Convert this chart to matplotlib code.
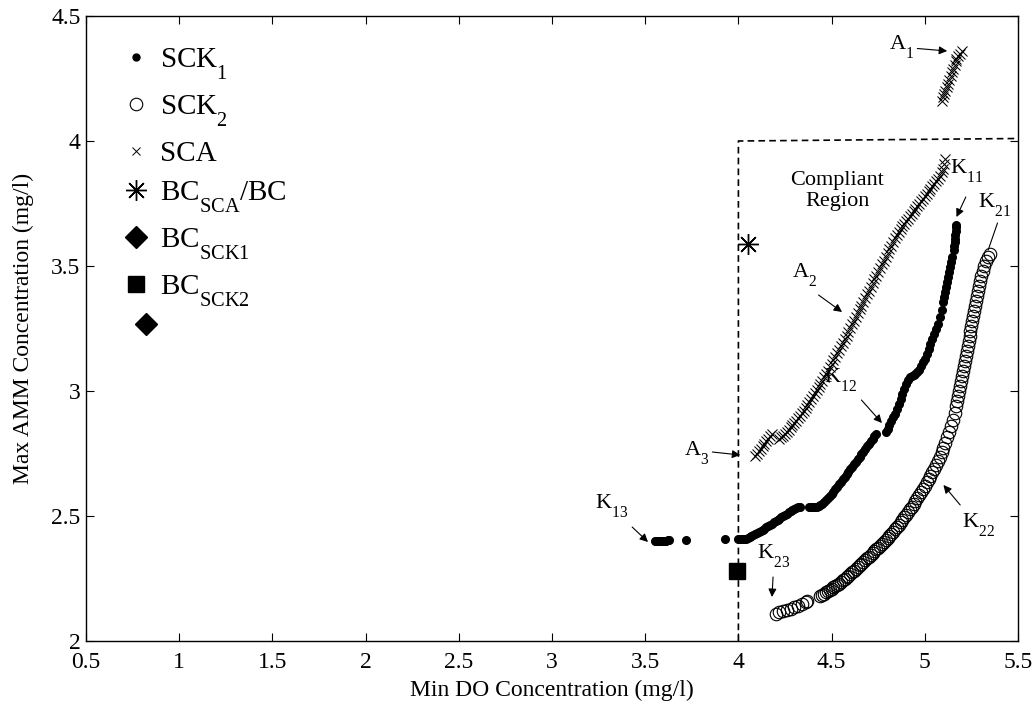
"""
Min DO vs Max AMM concentration: SCK1 / SCK2 / SCA trade-off curves
with the compliant region marked off by a dashed line.
"""

import matplotlib
matplotlib.use('Agg')
import matplotlib.pyplot as plt
from matplotlib.lines import Line2D

plt.rcParams['font.family'] = ['Liberation Serif', 'DejaVu Serif']
plt.rcParams['mathtext.fontset'] = 'custom'
plt.rcParams['mathtext.rm'] = 'Liberation Serif'
plt.rcParams['mathtext.it'] = 'Liberation Serif:italic'

# MATLAB-style subscripts sit lower than mathtext's default
try:
    import matplotlib._mathtext as _mt
    _mt.FontConstantsBase.sub1 = 0.9
    _mt.FontConstantsBase.sub2 = 1.0
except Exception:
    pass

# ---- data ----
# SCK1 (filled dots)
sck1_do = [3.55, 3.56, 3.57, 3.58, 3.59, 3.60, 3.61, 3.62, 3.63, 3.72, 3.93,
           4.00, 4.01, 4.02, 4.03, 4.04, 4.05, 4.06, 4.07, 4.08, 4.09, 4.10, 4.11,
           4.12, 4.13, 4.14, 4.15, 4.16, 4.17, 4.18, 4.19, 4.20, 4.21, 4.22, 4.23,
           4.24, 4.25, 4.26, 4.27, 4.28, 4.29, 4.30, 4.31, 4.32, 4.33,
           4.38, 4.39, 4.40, 4.41, 4.42, 4.43, 4.44, 4.45, 4.46, 4.47, 4.48, 4.49,
           4.50, 4.51, 4.52, 4.53, 4.54, 4.55, 4.56, 4.57, 4.58, 4.59, 4.60, 4.61,
           4.62, 4.63, 4.64, 4.65, 4.66, 4.67, 4.68, 4.69, 4.70, 4.71, 4.72, 4.73, 4.74,
           4.79, 4.80, 4.81, 4.82, 4.83, 4.84, 4.85, 4.86, 4.87, 4.88, 4.89, 4.90,
           4.91, 4.92, 4.93, 4.94, 4.95, 4.96, 4.97, 4.98, 4.99, 5.00, 5.01, 5.02,
           5.03, 5.04, 5.05, 5.06, 5.07, 5.08, 5.09, 5.10, 5.105, 5.11, 5.115, 5.12,
           5.125, 5.13, 5.135, 5.14, 5.145,
           5.155, 5.157, 5.16, 5.162, 5.164, 5.166, 5.168, 5.17]
sck1_amm = [2.400, 2.400, 2.400, 2.400, 2.401, 2.402, 2.402, 2.403, 2.404, 2.405, 2.410,
            2.410, 2.410, 2.410, 2.410, 2.410, 2.413, 2.416, 2.420, 2.424, 2.428, 2.432, 2.436,
            2.440, 2.445, 2.450, 2.455, 2.460, 2.465, 2.470, 2.475, 2.480, 2.485, 2.490, 2.495,
            2.500, 2.505, 2.510, 2.515, 2.520, 2.525, 2.530, 2.533, 2.536, 2.538,
            2.535, 2.535, 2.535, 2.536, 2.538, 2.541, 2.545, 2.550, 2.556, 2.563, 2.571, 2.580,
            2.589, 2.598, 2.607, 2.617, 2.627, 2.637, 2.647, 2.657, 2.667, 2.677, 2.687, 2.697,
            2.707, 2.717, 2.727, 2.737, 2.747, 2.757, 2.768, 2.779, 2.790, 2.800, 2.810, 2.820, 2.828,
            2.835, 2.850, 2.865, 2.880, 2.895, 2.910, 2.930, 2.950, 2.970, 2.990, 3.010, 3.030,
            3.045, 3.055, 3.062, 3.066, 3.070, 3.075, 3.085, 3.100, 3.115, 3.130, 3.150, 3.170,
            3.190, 3.210, 3.230, 3.250, 3.270, 3.295, 3.325, 3.355, 3.375, 3.395, 3.415, 3.435,
            3.455, 3.475, 3.495, 3.515, 3.535,
            3.565, 3.580, 3.595, 3.610, 3.625, 3.640, 3.655, 3.665]

# SCK2 (open circles)
sck2_do = [4.20, 4.22, 4.24, 4.26, 4.28, 4.30, 4.32, 4.34, 4.36, 4.37,
           4.44, 4.45, 4.46, 4.47, 4.48, 4.49, 4.50, 4.51, 4.52, 4.53, 4.54, 4.55,
           4.56, 4.57, 4.58, 4.59, 4.60, 4.61, 4.62, 4.63, 4.64, 4.65, 4.66, 4.67,
           4.68, 4.69, 4.70, 4.71, 4.72, 4.73, 4.74, 4.75, 4.76, 4.77, 4.78, 4.79,
           4.80, 4.81, 4.82, 4.83, 4.84, 4.85, 4.86, 4.87, 4.88, 4.89, 4.90, 4.91,
           4.92, 4.93, 4.94, 4.95, 4.96, 4.97, 4.98, 4.99, 5.00, 5.01, 5.02, 5.03,
           5.04, 5.05, 5.06, 5.07, 5.08, 5.09, 5.10, 5.11, 5.12, 5.13, 5.14, 5.15,
           5.16, 5.17, 5.175, 5.18, 5.185, 5.19, 5.195, 5.20, 5.205, 5.21, 5.215, 5.22,
           5.225, 5.23, 5.235, 5.24, 5.245, 5.25, 5.255, 5.26, 5.265, 5.27, 5.275, 5.28,
           5.285, 5.29, 5.295, 5.30, 5.31, 5.32, 5.33, 5.34, 5.35]
sck2_amm = [2.110, 2.115, 2.120, 2.125, 2.130, 2.135, 2.140, 2.150, 2.155, 2.160,
            2.180, 2.185, 2.190, 2.195, 2.200, 2.205, 2.210, 2.215, 2.220, 2.225, 2.230, 2.237,
            2.243, 2.250, 2.256, 2.262, 2.268, 2.275, 2.282, 2.289, 2.296, 2.303, 2.310, 2.317,
            2.324, 2.331, 2.338, 2.345, 2.352, 2.360, 2.367, 2.374, 2.382, 2.390, 2.397, 2.405,
            2.413, 2.421, 2.430, 2.438, 2.447, 2.456, 2.465, 2.475, 2.485, 2.495, 2.505, 2.516,
            2.527, 2.538, 2.550, 2.562, 2.574, 2.586, 2.598, 2.610, 2.622, 2.635, 2.648, 2.661,
            2.675, 2.689, 2.704, 2.720, 2.737, 2.755, 2.774, 2.794, 2.815, 2.837, 2.860, 2.885,
            2.912, 2.940, 2.960, 2.980, 3.000, 3.020, 3.040, 3.060, 3.080, 3.100, 3.120, 3.140,
            3.160, 3.180, 3.200, 3.220, 3.240, 3.260, 3.280, 3.300, 3.320, 3.340, 3.360, 3.380,
            3.400, 3.420, 3.440, 3.460, 3.480, 3.500, 3.520, 3.535, 3.550]

# SCA (x markers): A1, A3 and A2 segments
sca_do = [5.09, 5.10, 5.105, 5.11, 5.12, 5.125, 5.13, 5.14, 5.145, 5.15, 5.16, 5.165,
          5.17, 5.18, 5.19, 5.20,
          4.09, 4.10, 4.11, 4.12, 4.13, 4.14, 4.15, 4.16, 4.17, 4.18,
          4.22, 4.23, 4.24, 4.25, 4.26, 4.27, 4.28, 4.29, 4.30, 4.31, 4.32, 4.33,
          4.34, 4.35, 4.36, 4.37, 4.38, 4.39, 4.40, 4.41, 4.42, 4.43, 4.44, 4.45,
          4.46, 4.47, 4.48, 4.49, 4.50, 4.51, 4.52, 4.53, 4.54, 4.55, 4.56, 4.57,
          4.58, 4.59, 4.60, 4.61, 4.62, 4.63, 4.64, 4.65, 4.66, 4.67, 4.68, 4.69,
          4.70, 4.71, 4.72, 4.73, 4.74, 4.75, 4.76, 4.77, 4.78, 4.79, 4.80, 4.81,
          4.82, 4.83, 4.84, 4.85, 4.86, 4.87, 4.88, 4.89, 4.90, 4.91, 4.92, 4.93,
          4.94, 4.95, 4.96, 4.97, 4.98, 4.99, 5.00, 5.01, 5.02, 5.03, 5.04, 5.05,
          5.06, 5.07, 5.08, 5.09, 5.10, 5.105, 5.11]
sca_amm = [4.160, 4.175, 4.190, 4.200, 4.215, 4.230, 4.245, 4.260, 4.275, 4.290, 4.305, 4.320,
           4.330, 4.340, 4.350, 4.360,
           2.740, 2.750, 2.760, 2.770, 2.780, 2.790, 2.800, 2.810, 2.820, 2.830,
           2.810, 2.815, 2.822, 2.830, 2.838, 2.846, 2.855, 2.864, 2.873, 2.882, 2.892, 2.902,
           2.912, 2.922, 2.933, 2.944, 2.955, 2.967, 2.979, 2.991, 3.003, 3.016, 3.029, 3.042,
           3.055, 3.068, 3.082, 3.096, 3.110, 3.124, 3.138, 3.152, 3.166, 3.180, 3.194, 3.208,
           3.222, 3.237, 3.252, 3.267, 3.282, 3.297, 3.312, 3.327, 3.342, 3.357, 3.372, 3.387,
           3.402, 3.417, 3.432, 3.447, 3.462, 3.477, 3.492, 3.507, 3.522, 3.537, 3.552, 3.567,
           3.582, 3.597, 3.611, 3.624, 3.637, 3.649, 3.660, 3.670, 3.680, 3.690, 3.700, 3.710,
           3.720, 3.730, 3.740, 3.750, 3.760, 3.770, 3.780, 3.790, 3.800, 3.810, 3.820, 3.830,
           3.840, 3.850, 3.860, 3.875, 3.890, 3.910, 3.930]

# single base-case points
bc_sca = (4.05, 3.59)
bc_sck1 = (0.82, 3.27)
bc_sck2 = (3.99, 2.28)

# compliant region boundary
region_do = [4.0, 4.0, 5.5]
region_amm = [2.0, 4.0, 4.01]

legend_labels = ['SCK$_1$', 'SCK$_2$', 'SCA', 'BC$_\\mathrm{SCA}$/BC',
                 'BC$_\\mathrm{SCK1}$', 'BC$_\\mathrm{SCK2}$']

ASTERISK = (8, 2, 0)

fig = plt.figure(figsize=(10.36, 7.04), dpi=100)
ax = fig.add_axes([86 / 1036, 63 / 704, 932 / 1036, 625 / 704])

ax.plot(region_do, region_amm, 'k--', lw=1.2, dashes=(4, 2.5))
ax.plot(sck1_do, sck1_amm, 'o', color='k', ms=5.5, ls='none')
ax.plot(sck2_do, sck2_amm, 'o', mfc='none', mec='k', mew=0.8, ms=9, ls='none')
ax.plot(sca_do, sca_amm, 'x', color='k', mew=0.75, ms=7, ls='none')
ax.plot(*bc_sca, marker=ASTERISK, color='k', mew=1.0, ms=15, ls='none')
ax.plot(*bc_sck1, 'D', color='k', ms=11, ls='none')
ax.plot(*bc_sck2, 's', color='k', ms=11, ls='none')

# legend (no box)
handles = [
    Line2D([], [], marker='o', color='k', ms=5, ls='none'),
    Line2D([], [], marker='o', mfc='none', mec='k', mew=0.8, ms=9, ls='none'),
    Line2D([], [], marker='x', color='k', mew=0.7, ms=6, ls='none'),
    Line2D([], [], marker=ASTERISK, color='k', mew=1.0, ms=15, ls='none'),
    Line2D([], [], marker='D', color='k', ms=11, ls='none'),
    Line2D([], [], marker='s', color='k', ms=11, ls='none'),
]
ax.legend(handles, legend_labels, loc='upper left', bbox_to_anchor=(0.025, 0.97),
          frameon=False, fontsize=21, handlelength=1.0, handletextpad=0.35,
          labelspacing=0.4, borderaxespad=0)

# curve labels and arrows
arrow_kw = dict(arrowstyle='-|>', color='k', lw=0.8, mutation_scale=12,
                shrinkA=0, shrinkB=0)
labels = [
    ('A$_1$', (4.81, 4.37), (4.96, 4.37), (5.12, 4.36)),
    ('K$_{11}$', (5.135, 3.87), (5.22, 3.776), (5.17, 3.696)),
    ('A$_2$', (4.29, 3.456), (4.43, 3.384), (4.556, 3.316)),
    ('K$_{12}$', (4.46, 3.036), (4.66, 2.964), (4.77, 2.872)),
    ('A$_3$', (3.71, 2.744), (3.86, 2.756), (4.01, 2.744)),
    ('K$_{13}$', (3.23, 2.532), (3.43, 2.456), (3.515, 2.396)),
    ('K$_{23}$', (4.10, 2.332), (4.186, 2.256), (4.18, 2.176)),
    ('K$_{22}$', (5.20, 2.456), (5.19, 2.544), (5.10, 2.624)),
]
for txt, pos, tail, head in labels:
    ax.text(pos[0], pos[1], txt, fontsize=16, ha='left', va='baseline')
    ax.annotate('', xy=head, xytext=tail, arrowprops=arrow_kw)

ax.text(5.285, 3.736, 'K$_{21}$', fontsize=16, ha='left', va='baseline')
ax.annotate('', xy=(5.34, 3.564), xytext=(5.39, 3.672),
            arrowprops=dict(arrowstyle='-', color='k', lw=0.8, shrinkA=0, shrinkB=0))

ax.text(4.53, 3.80, 'Compliant\nRegion', fontsize=16, ha='center', va='center',
        linespacing=1.15)

ax.set_xlim(0.5, 5.5)
ax.set_ylim(2, 4.5)
ax.set_xticks([0.5, 1, 1.5, 2, 2.5, 3, 3.5, 4, 4.5, 5, 5.5])
ax.set_xticklabels(['0.5', '1', '1.5', '2', '2.5', '3', '3.5', '4', '4.5', '5', '5.5'])
ax.set_yticks([2, 2.5, 3, 3.5, 4, 4.5])
ax.set_yticklabels(['2', '2.5', '3', '3.5', '4', '4.5'])
ax.tick_params(direction='in', top=True, right=True, length=6, width=0.8,
               labelsize=17, pad=4)
ax.tick_params(axis='x', pad=8)
for sp in ax.spines.values():
    sp.set_linewidth(1.0)

ax.set_xlabel('Min DO Concentration (mg/l)', fontsize=17, labelpad=5)
ax.set_ylabel('Max AMM Concentration (mg/l)', fontsize=17, labelpad=12)

fig.savefig('out.png', dpi=100)
plt.close(fig)
